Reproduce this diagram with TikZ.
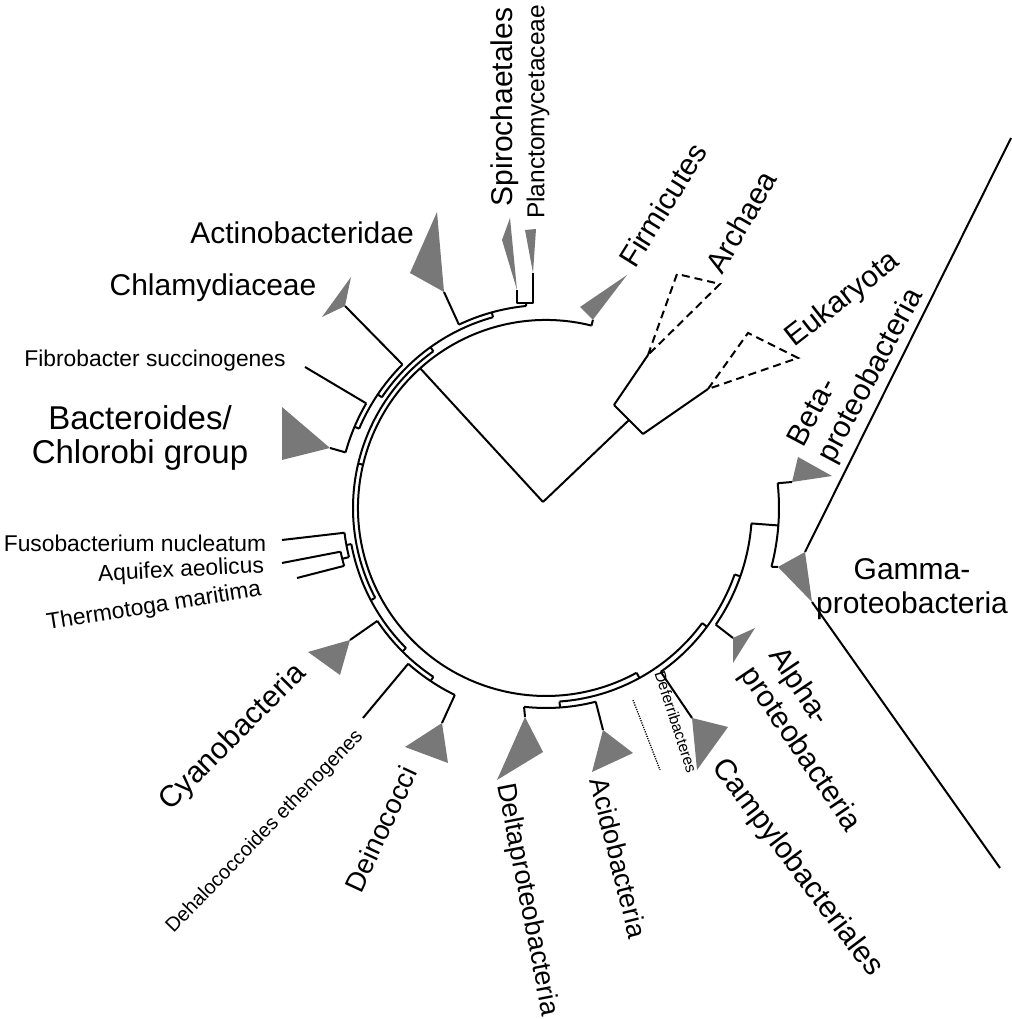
\documentclass[tikz,border=0pt]{standalone}
\usepackage{fontspec}
\setmainfont{Liberation Sans}
\definecolor{trigray}{RGB}{120,120,120}
\newcommand{\treearc}[3]{\draw[br] (#2:#1) arc[start angle=#2, end angle=#3, radius=#1];}
\newcommand{\treetick}[3]{\draw[br] (#1:#2) -- (#1:#3);}
\begin{document}
\begin{tikzpicture}[x=1pt,y=1pt,
  br/.style={line width=2pt, line join=round},
  tri/.style={fill=trigray},
  dtri/.style={draw, line width=2pt, dash pattern=on 8pt off 5pt},
  big/.style={font=\fontsize{30}{34}\selectfont, inner sep=0pt},
  mid/.style={font=\fontsize{27.5}{32}\selectfont, inner sep=0pt},
  small/.style={font=\fontsize{22.8}{27}\selectfont, inner sep=0pt},
  tiny/.style={font=\fontsize{15.5}{18}\selectfont, inner sep=0pt}]
\useasboundingbox (0,0) rectangle (1011,1019);
% ---------- circular tree (polar, centre of circle) ----------
\begin{scope}[shift={(546,511)}]
\treearc{188}{76}{298.8}
\treetick{76}{188}{194}\coordinate (firm) at (76:194);
% upper clades
\treetick{166.7}{188}{193}
\treearc{193}{125.7}{207.75}
\treetick{125.7}{193}{198}
\treearc{198}{105.5}{146}
\treetick{105.5}{198}{203}
\treearc{203}{95.6}{115.4}
\treetick{95.6}{203}{206}
\coordinate (act) at (115.4:203);
\treetick{146}{198}{203}
\treearc{203}{135}{157}
\coordinate (chl) at (135:203);
\treetick{157}{203}{208}
\treearc{208}{149.8}{164.5}
\coordinate (fib) at (149.8:208);
\coordinate (bac) at (164.5:208);
% lower-left clades
\treetick{207.75}{193}{198}
\treearc{198}{190.5}{225}
\treetick{190.5}{198}{203}
\treearc{203}{187}{194}
\coordinate (fus) at (187:203);
\treetick{194}{203}{210}
\treearc{210}{192}{196}
\coordinate (aqu) at (192:210);
\coordinate (the) at (196:210);
\treetick{225}{198}{203}
\treearc{203}{213.8}{236.3}
\coordinate (cya) at (213.8:203);
\treetick{236.3}{203}{208}
\treearc{208}{228.5}{244}
\coordinate (deh) at (228.5:208);
\coordinate (dei) at (244:208);
% bottom / right clades
\treetick{298.8}{188}{194}
\treearc{194}{274}{323.6}
\treetick{274}{194}{200}
\treearc{200}{263.7}{284.4}
\coordinate (del) at (263.7:200);
\coordinate (aci) at (284.4:200);
\treetick{323.6}{194}{200}
\treearc{200}{305}{340.6}
\coordinate (cam) at (305:200);
\treetick{340.6}{200}{206}
\treearc{206}{325.5}{355.7}
\coordinate (alp) at (325.5:206);
\treetick{355.7}{206}{233}
\treearc{233}{345.4}{366.1}
\coordinate (bet) at (6.1:233);
\coordinate (gam) at (345.4:233);
\coordinate (broot) at (132:188);
\end{scope}
% ---------- everything else in image pixel coordinates ----------
\begin{scope}[shift={(0,1019)}, yscale=-1]
\coordinate (root) at (543,502);
\draw[br] (root) -- (broot);
% archaea / eukaryota
\coordinate (ae) at (629,420);
\coordinate (arcn) at (614,405);
\coordinate (eukn) at (643,434);
\coordinate (arct) at (648,355);
\coordinate (eukt) at (708,389);
\draw[br] (root) -- (ae);
\draw[br] (arcn) -- (eukn);
\draw[br] (arcn) -- (arct);
\draw[br] (eukn) -- (eukt);
\draw[dtri] (arct) -- (677,274) -- (720,284) -- cycle;
\draw[dtri] (eukt) -- (748,333) -- (798,358) -- cycle;
% firmicutes
\fill[tri] (firm) -- (580,307) -- (627,275) -- cycle;
% spirochaetales / planctomycetaceae bracket
\draw[br] (517,290) -- (517,303) -- (533,303) -- (533,273);
\draw[br] (526,303) -- (526,306);
\fill[tri] (517,290) -- (502,240) -- (510,218) -- cycle;
\fill[tri] (533,273) -- (525,230) -- (536,229) -- cycle;
% actinobacteridae
\draw[br] (act) -- (444,292);
\fill[tri] (444,292) -- (410,273) -- (437,212) -- cycle;
% chlamydiaceae
\draw[br] (chl) -- (345,306);
\fill[tri] (345,306) -- (322,317) -- (351,277) -- cycle;
% fibrobacter, bacteroides
\draw[br] (fib) -- (305,367);
\draw[br] (bac) -- (330,448);
\fill[tri] (330,448) -- (282,407) -- (282,460) -- cycle;
% fuso, aquifex, thermotoga
\draw[br] (fus) -- (282,540);
\draw[br] (aqu) -- (282,563);
\draw[br] (the) -- (297,578);
% cyanobacteria
\draw[br] (cya) -- (350,640);
\fill[tri] (350,640) -- (308,652) -- (340,675) -- cycle;
% dehalococcoides, deinococci
\draw[br] (deh) -- (363,718);
\draw[br] (dei) -- (442,723);
\fill[tri] (442,723) -- (405,747) -- (448,763) -- cycle;
% delta, acido
\draw[br] (del) -- (525,717);
\fill[tri] (525,717) -- (543,752) -- (497,780) -- cycle;
\draw[br] (aci) -- (603,730);
\fill[tri] (603,730) -- (633,753) -- (592,772) -- cycle;
% deferribacteres (dotted)
\draw[line width=1.3pt, dash pattern=on 1.2pt off 1.2pt] (633,700) -- (660,770);
% campylobacteriales
\draw[br] (cam) -- (692,718);
\fill[tri] (692,718) -- (728,727) -- (697,770) -- cycle;
% alpha
\draw[br] (alp) -- (733,638);
\fill[tri] (733,638) -- (755,628) -- (733,663) -- cycle;
% beta, gamma
\draw[br] (bet) -- (792,482);
\fill[tri] (792,482) -- (798,457) -- (832,476) -- cycle;
\draw[br] (gam) -- (778,567);
\fill[tri] (778,567) -- (805,552) -- (812,602) -- cycle;
\draw[br] (805,552) -- (1011,138);
\draw[br] (812,602) -- (1000,868);
% ---------- labels ----------
\node[big] (lact) at (302,233) {Actinobacteridae};
\node[big] (lchl) at (213,288) {Chlamydiaceae};
\node[small] (lfib) at (155,361) {Fibrobacter succinogenes};
\node[font=\fontsize{33}{34}\selectfont, inner sep=0pt, align=center] (lbac) at (140,438) {Bacteroides/\\Chlorobi group};
\node[small] (lfus) at (135,543) {Fusobacterium nucleatum};
\node[small, rotate=3] (laqu) at (181,571) {Aquifex aeolicus};
\node[small, rotate=9] (lthe) at (154,607) {Thermotoga maritima};
\node[big, rotate=45] (lcya) at (233,738) {Cyanobacteria};
\node[font=\fontsize{20}{24}\selectfont, inner sep=0pt, rotate=46] (ldeh) at (265,832) {Dehalococcoides ethenogenes};
\node[mid, rotate=65] (ldei) at (381,829) {Deinococci};
\node[font=\fontsize{27}{32}\selectfont, inner sep=0pt, rotate=-79] (ldel) at (527,900) {Deltaproteobacteria};
\node[font=\fontsize{27}{32}\selectfont, inner sep=0pt, rotate=-76] (laci) at (619,858) {Acidobacteria};
\node[tiny, rotate=-72] (ldef) at (676,722) {Deferribacteres};
\node[big, rotate=-53] (lcam) at (797,868) {Campylobacteriales};
\node[big, rotate=-56, align=left] (lalp) at (814,740) {Alpha-\\proteobacteria};
\node[big, align=center] (lgam) at (912,589) {Gamma-\\proteobacteria};
\node[big, rotate=62, align=left] (lbet) at (857,368) {Beta-\\proteobacteria};
\node[big, rotate=38] (leuk) at (843,300) {Eukaryota};
\node[big, rotate=60] (larc) at (741,222) {Archaea};
\node[big, rotate=58] (lfir) at (663,205) {Firmicutes};
\node[big, rotate=90] (lspi) at (505,107) {Spirochaetales};
\node[font=\fontsize{24.5}{28}\selectfont, inner sep=0pt, rotate=90] (lpla) at (538,112) {Planctomycetaceae};
\end{scope}
\end{tikzpicture}
\end{document}
